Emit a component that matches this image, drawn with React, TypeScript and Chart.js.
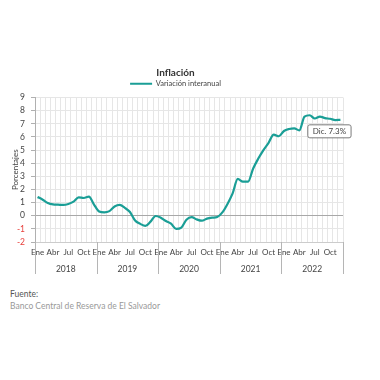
import React, { useEffect, useRef } from "react";
import { Chart, registerables } from "chart.js";

Chart.register(...registerables);

const monthNames = ["Ene", "Feb", "Mar", "Abr", "May", "Jun", "Jul", "Ago", "Sep", "Oct", "Nov", "Dic"];
const years = ["2018", "2019", "2020", "2021", "2022"];
const months: string[] = years.flatMap((y) => monthNames.map((m) => `${m} ${y}`));
const shownMonths = ["Ene", "Abr", "Jul", "Oct"];

const inflation = [
  1.43, 1.22, 0.97, 0.86, 0.84, 0.82, 0.89, 1.07, 1.4, 1.35, 1.45, 0.85,
  0.32, 0.25, 0.35, 0.7, 0.82, 0.6, 0.28, -0.36, -0.62, -0.78, -0.45, -0.02,
  -0.15, -0.4, -0.6, -1.0, -0.9, -0.3, -0.1, -0.28, -0.38, -0.22, -0.15, -0.1,
  0.25, 0.9, 1.7, 2.8, 2.6, 2.6, 3.6, 4.35, 5.0, 5.55, 6.18, 6.05,
  6.45, 6.6, 6.65, 6.5, 7.55, 7.65, 7.4, 7.55, 7.43, 7.38, 7.28, 7.3,
];
const lastLabel = "Dic. 7.3%";

const TEAL = "#1a9e96";
const FONT = "Lato, 'Open Sans', sans-serif";

const overlayPlugin = {
  id: "overlay",
  afterDatasetsDraw(chart: any) {
    const { ctx, chartArea, scales } = chart;
    const xs = scales.x;
    ctx.save();
    ctx.strokeStyle = "#b5b5b5";
    ctx.lineWidth = 1;
    const step = xs.getPixelForValue(1) - xs.getPixelForValue(0);
    for (let i = 0; i <= years.length; i++) {
      const idx = i * 12;
      let xp: number;
      if (idx < months.length) xp = xs.getPixelForValue(idx) - step / 2;
      else xp = chartArea.right;
      xp = Math.round(xp) + 0.5;
      ctx.beginPath();
      ctx.moveTo(xp, chartArea.bottom);
      ctx.lineTo(xp, chartArea.bottom + 32);
      ctx.stroke();
    }
    // year labels
    ctx.font = `8.5px ${FONT}`;
    ctx.fillStyle = "#444444";
    ctx.textAlign = "center";
    ctx.textBaseline = "middle";
    years.forEach((y, i) => {
      const a = xs.getPixelForValue(i * 12) - step / 2;
      const b = xs.getPixelForValue(i * 12 + 11) + step / 2;
      ctx.fillText(y, (a + b) / 2, chartArea.bottom + 27);
    });
    // last value label
    const li = inflation.length - 1;
    const px = xs.getPixelForValue(li);
    const py = scales.y.getPixelForValue(inflation[li]);
    ctx.font = `8px ${FONT}`;
    const tw = ctx.measureText(lastLabel).width;
    const w = tw + 10;
    const h = 13;
    const cx = px - 11;
    const top = py + 5;
    const left = cx - w / 2;
    ctx.beginPath();
    const r = 2;
    ctx.moveTo(left + r, top);
    ctx.lineTo(left + w - r, top);
    ctx.arcTo(left + w, top, left + w, top + r, r);
    ctx.lineTo(left + w, top + h - r);
    ctx.arcTo(left + w, top + h, left + w - r, top + h, r);
    ctx.lineTo(left + r, top + h);
    ctx.arcTo(left, top + h, left, top + h - r, r);
    ctx.lineTo(left, top + r);
    ctx.arcTo(left, top, left + r, top, r);
    ctx.closePath();
    ctx.fillStyle = "#ffffff";
    ctx.fill();
    ctx.strokeStyle = "#7a7a7a";
    ctx.lineWidth = 1;
    ctx.stroke();
    ctx.fillStyle = "#444444";
    ctx.fillText(lastLabel, cx, top + h / 2 + 0.5);
    ctx.restore();
  },
};

export default function App() {
  const ref = useRef<HTMLCanvasElement | null>(null);
  useEffect(() => {
    if (!ref.current) return;
    const chart = new Chart(ref.current, {
      type: "line",
      data: {
        labels: months,
        datasets: [
          {
            label: "Variación interanual",
            data: inflation,
            borderColor: TEAL,
            backgroundColor: TEAL,
            borderWidth: 2.2,
            pointRadius: 0,
            pointStyle: "line",
            tension: 0.4,
            cubicInterpolationMode: "monotone",
          },
        ],
      },
      options: {
        animation: false,
        responsive: false,
        layout: { padding: { top: 59, left: 0, right: 29, bottom: 0 } },
        plugins: {
          title: {
            display: true,
            text: "Inflación",
            color: "#333333",
            font: { family: FONT, size: 10, weight: "bold" },
            padding: { top: 0, bottom: 0 },
          },
          legend: {
            display: true,
            labels: {
              usePointStyle: true,
              pointStyle: "line",
              pointStyleWidth: 22,
              boxHeight: 8,
              color: "#444444",
              font: { family: FONT, size: 7.5 },
              padding: 1,
            },
          },
          tooltip: { enabled: false },
        },
        scales: {
          x: {
            type: "category",
            offset: true,
            grid: { color: "#e6e6e6", offset: true, drawTicks: false },
            border: { display: true, color: "#cccccc" },
            afterFit: (s: any) => {
              s.height = 44;
            },
            ticks: {
              autoSkip: false,
              maxRotation: 0,
              minRotation: 0,
              padding: 6,
              color: "#444444",
              font: { family: FONT, size: 8 },
              callback: (_v: any, i: number) => {
                const m = monthNames[i % 12];
                return shownMonths.includes(m) ? m : "";
              },
            },
          },
          y: {
            min: -2,
            max: 9,
            afterFit: (s: any) => {
              s.width = 27;
            },
            ticks: {
              stepSize: 1,
              autoSkip: false,
              padding: 6,
              font: { family: FONT, size: 8.5 },
              color: (c: any) => (c.tick && c.tick.value < 0 ? "#e8403c" : "#444444"),
            },
            grid: {
              color: (c: any) => (c.tick && c.tick.value === 0 ? "#a8a8a8" : "#e6e6e6"),
              tickLength: 4,
              tickColor: "#b0b0b0",
            },
            border: { display: true, color: "#b0b0b0" },
            title: {
              display: true,
              text: "Porcentajes",
              color: "#444444",
              font: { family: FONT, size: 8 },
              padding: { top: 3, bottom: 0 },
            },
          },
        },
      },
      plugins: [overlayPlugin],
    });
    return () => chart.destroy();
  }, []);
  return (
    <div style={{ position: "relative", width: 364, height: 364 }}>
      <canvas ref={ref} width={364} height={278} style={{ display: "block" }} />
      <div style={{ position: "absolute", left: 2, top: 280, fontFamily: FONT, fontSize: 8.5, color: "#555555", lineHeight: "12px" }}>
        Fuente:
      </div>
      <div style={{ position: "absolute", left: 2, top: 292, fontFamily: FONT, fontSize: 8.5, color: "#999999", lineHeight: "12px" }}>
        Banco Central de Reserva de El Salvador
      </div>
    </div>
  );
}
